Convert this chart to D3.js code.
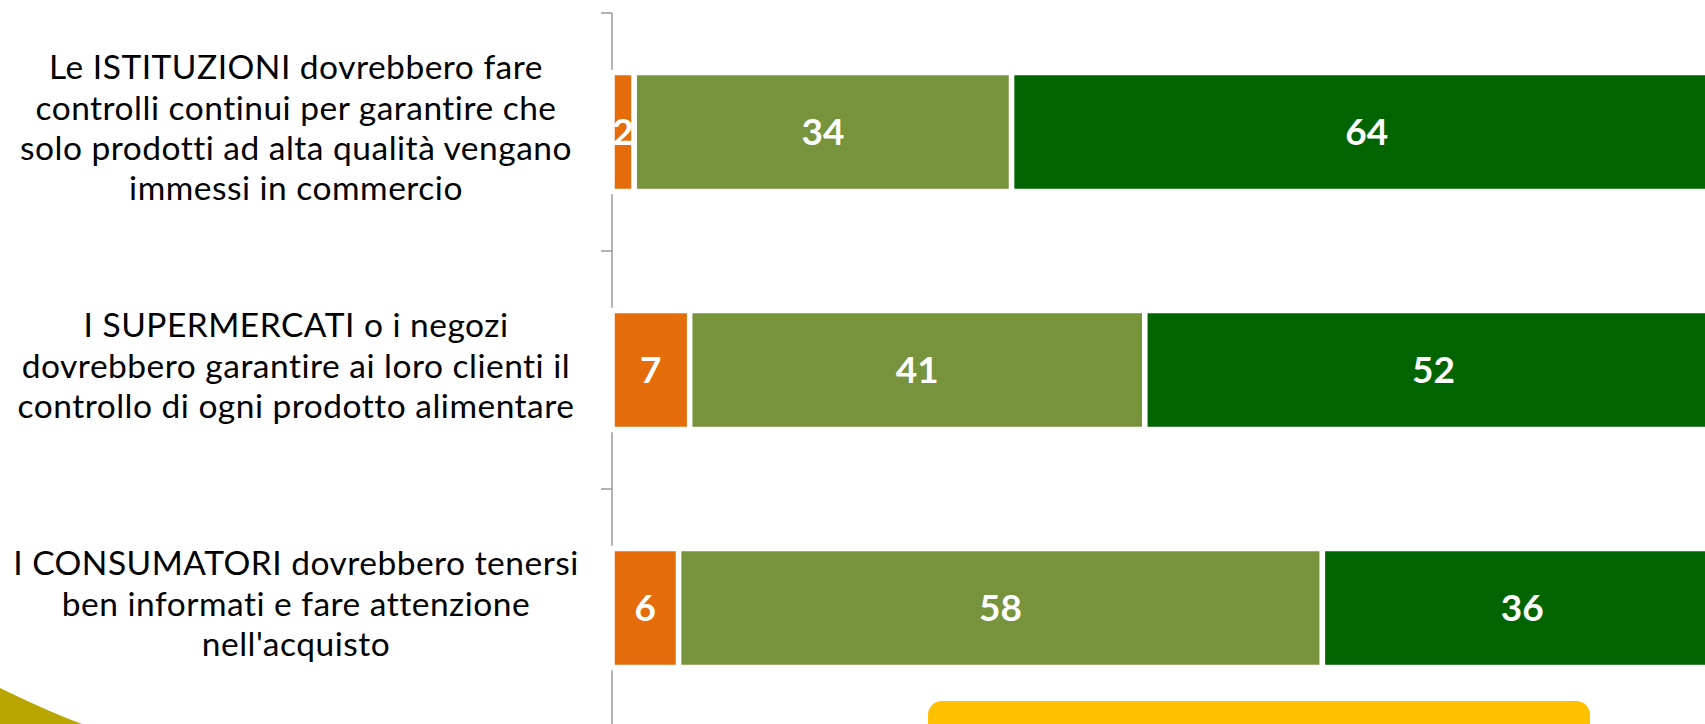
<!DOCTYPE html>
<html>
<head>
<meta charset="utf-8">
<script src="https://cdn.jsdelivr.net/npm/d3@7"></script>
<style>
  body { margin: 0; background: #fff; overflow: hidden; }
  svg { display: block; }
</style>
</head>
<body>
<svg id="chart" width="1705" height="724"></svg>
<script>
// category labels, already wrapped as in the original
const categories = [
  ["Le ISTITUZIONI dovrebbero fare", "controlli continui per garantire che", "solo prodotti ad alta qualità vengano", "immessi in commercio"],
  ["I SUPERMERCATI o i negozi", "dovrebbero garantire ai loro clienti il", "controllo di ogni prodotto alimentare"],
  ["I CONSUMATORI dovrebbero tenersi", "ben informati e fare attenzione", "nell'acquisto"]
];
const seriesKeys = ["basso", "medio", "alto"];
const valBasso = [2, 7, 6];
const valMedio = [34, 41, 58];
const valAlto = [64, 52, 36];
const colors = ["#E46C0A", "#77933C", "#006400"];

let svg = d3.select("#chart");

let rows = categories.map(function(c, i) {
  return { id: i, basso: valBasso[i], medio: valMedio[i], alto: valAlto[i] };
});

let x = d3.scaleLinear().domain([0, 100]).range([612, 1722]);
let y = d3.scaleBand()
  .domain(rows.map(function(d) { return d.id; }))
  .range([13, 727])
  .paddingInner(0.5)
  .paddingOuter(0.25);

let stacked = d3.stack().keys(seriesKeys)(rows);

// decorative corner swoosh + yellow box at the bottom
svg.append("path")
  .attr("d", "M0,688 C25,700 50,712 82,724 L0,724 Z")
  .style("fill", "#B9A500");

svg.append("rect")
  .attr("x", 928).attr("y", 701)
  .attr("width", 662).attr("height", 40)
  .attr("rx", 14)
  .style("fill", "#FFC000");

// axis line with ticks at the band edges
let axisColor = "#9A9A9A";
svg.append("line")
  .attr("x1", 612).attr("x2", 612)
  .attr("y1", 13).attr("y2", 724)
  .style("stroke", axisColor)
  .style("stroke-width", 1.5);

let edges = rows.map(function(d) { return y(d.id) - y.step() * 0.25; });
edges.push(y.range()[1]);
svg.selectAll("line.tick")
  .data(edges)
  .enter()
  .append("line")
  .attr("class", "tick")
  .attr("x1", 601).attr("x2", 612)
  .attr("y1", function(d) { return d; })
  .attr("y2", function(d) { return d; })
  .style("stroke", axisColor)
  .style("stroke-width", 1.5);

// bars
let groups = svg.selectAll("g.series")
  .data(stacked)
  .enter()
  .append("g")
  .attr("class", "series")
  .style("fill", function(d, i) { return colors[i]; });

groups.selectAll("rect")
  .data(function(d) { return d; })
  .enter()
  .append("rect")
  .attr("x", function(d) { return x(d[0]); })
  .attr("y", function(d) { return y(d.data.id); })
  .attr("width", function(d) { return x(d[1]) - x(d[0]); })
  .attr("height", y.bandwidth())
  .style("stroke", "#fff")
  .style("stroke-width", 5.5);

groups.selectAll("text")
  .data(function(d) { return d; })
  .enter()
  .append("text")
  .attr("x", function(d) { return (x(d[0]) + x(d[1])) / 2; })
  .attr("y", function(d) { return y(d.data.id) + y.bandwidth() / 2; })
  .attr("dy", "0.36em")
  .attr("text-anchor", "middle")
  .style("font-family", "Lato, 'Open Sans', sans-serif")
  .style("font-weight", "bold")
  .style("font-size", "37px")
  .style("fill", "#fff")
  .text(function(d) { return d[1] - d[0]; });

// category labels
let lineH = 40.3;
let labels = svg.selectAll("text.cat")
  .data(categories)
  .enter()
  .append("text")
  .attr("class", "cat")
  .attr("text-anchor", "middle")
  .style("font-family", "Lato, 'Open Sans', sans-serif")
  .style("font-size", "33.5px")
  .style("letter-spacing", "0.5px")
  .style("fill", "#000");

labels.each(function(lines, i) {
  let cy = y(i) + y.bandwidth() / 2 - 4;
  let top = cy - (lines.length - 1) * lineH / 2;
  d3.select(this).selectAll("tspan")
    .data(lines)
    .enter()
    .append("tspan")
    .attr("x", 296)
    .attr("y", function(d, j) { return top + j * lineH; })
    .attr("dy", "0.35em")
    .text(function(d) { return d; });
});
</script>
</body>
</html>
